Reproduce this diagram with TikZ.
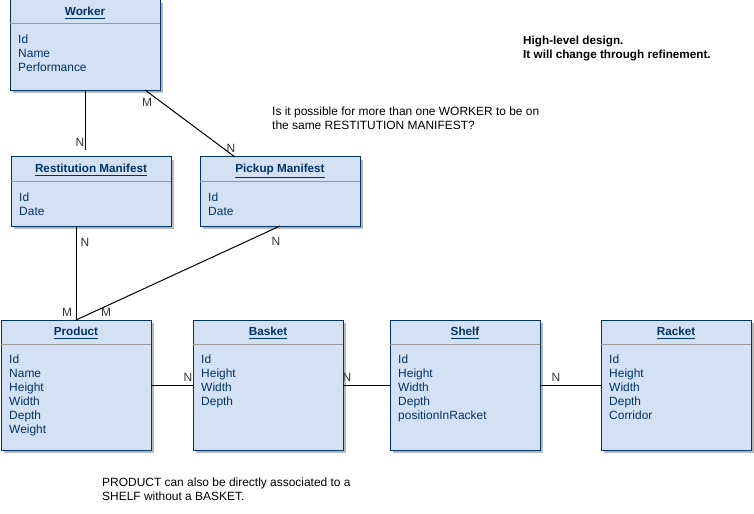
\documentclass[tikz,border=0pt]{standalone}
\usepackage{fontspec}
\setmainfont{Liberation Sans}
\usepackage{tikz}
\usetikzlibrary{calc,shadows}
\definecolor{EntFill}{HTML}{D4E1F5}
\definecolor{EntLine}{HTML}{003366}
\definecolor{EntSep}{HTML}{999999}
\definecolor{CardGray}{HTML}{333333}
\tikzset{
  entbox/.style={draw=EntLine, fill=EntFill, line width=0.85pt, anchor=north west,
    inner sep=0pt, outer sep=0pt, minimum width=4.5cm, minimum height=3.9cm,
    drop shadow={shadow xshift=0.09cm, shadow yshift=-0.09cm, fill=gray!55, opacity=1}},
  enttitle/.style={anchor=base, font=\bfseries, text=EntLine, inner sep=0pt},
  entattr/.style={anchor=north west, align=left, text=EntLine, inner sep=0pt},
  entsep/.style={draw=EntSep, line width=0.85pt},
  relline/.style={draw=black, line width=0.85pt},
  card/.style={text=CardGray, inner sep=0pt},
  note/.style={anchor=north west, align=left, inner sep=0pt}
}

\begin{document}
\begin{tikzpicture}[x=0.03cm, y=-0.03cm, font=\fontsize{10.2}{11.9}\selectfont]
  \useasboundingbox (0,0) rectangle (754,514);

  % worker
  \node[entbox, minimum height=2.7cm] (worker) at (10,0) {};
  \node[enttitle] (workertitle) at ($(worker.north)+(0,16)$) {\underline{Worker}};
  \draw[entsep] ($(worker.north west)+(0,24)$) -- ($(worker.north east)+(0,24)$);
  \node[entattr] (workerattr) at ($(worker.north west)+(8,35)$) {Id\\Name\\Performance};

  % manifests
  \node[entbox, minimum width=4.8cm, minimum height=2.07cm] (rest) at (11,157) {};
  \node[enttitle] (resttitle) at ($(rest.north)+(0,16)$) {\underline{Restitution Manifest}};
  \draw[entsep] ($(rest.north west)+(0,25)$) -- ($(rest.north east)+(0,25)$);
  \node[entattr] (restattr) at ($(rest.north west)+(8,36)$) {Id\\Date};

  \node[entbox, minimum width=4.8cm, minimum height=2.07cm] (pick) at (200,157) {};
  \node[enttitle] (picktitle) at ($(pick.north)+(0,16)$) {\underline{Pickup Manifest}};
  \draw[entsep] ($(pick.north west)+(0,25)$) -- ($(pick.north east)+(0,25)$);
  \node[entattr] (pickattr) at ($(pick.north west)+(8,36)$) {Id\\Date};

  % bottom row
  \node[entbox] (prod) at (1,320) {};
  \node[enttitle] (prodtitle) at ($(prod.north)+(0,16)$) {\underline{Product}};
  \draw[entsep] ($(prod.north west)+(0,24)$) -- ($(prod.north east)+(0,24)$);
  \node[entattr] (prodattr) at ($(prod.north west)+(8,35)$) {Id\\Name\\Height\\Width\\Depth\\Weight};

  \node[entbox] (basket) at (193,320) {};
  \node[enttitle] (baskettitle) at ($(basket.north)+(0,16)$) {\underline{Basket}};
  \draw[entsep] ($(basket.north west)+(0,24)$) -- ($(basket.north east)+(0,24)$);
  \node[entattr] (basketattr) at ($(basket.north west)+(8,35)$) {Id\\Height\\Width\\Depth};

  \node[entbox] (shelf) at (390,320) {};
  \node[enttitle] (shelftitle) at ($(shelf.north)+(0,16)$) {\underline{Shelf}};
  \draw[entsep] ($(shelf.north west)+(0,24)$) -- ($(shelf.north east)+(0,24)$);
  \node[entattr] (shelfattr) at ($(shelf.north west)+(8,35)$) {Id\\Height\\Width\\Depth\\positionInRacket};

  \node[entbox] (racket) at (601,320) {};
  \node[enttitle] (rackettitle) at ($(racket.north)+(0,16)$) {\underline{Racket}};
  \draw[entsep] ($(racket.north west)+(0,24)$) -- ($(racket.north east)+(0,24)$);
  \node[entattr] (racketattr) at ($(racket.north west)+(8,35)$) {Id\\Height\\Width\\Depth\\Corridor};

  % relations
  \coordinate (resttop) at ($(rest.north)+(0,-7)$);
  \draw[relline] (worker.south) -- (worker.south |- resttop);
  \draw[relline] ($(worker.south east)+(-15,0)$) -- ($(pick.north west)+(35,0)$);
  \draw[relline] (prod.north |- rest.south) -- (prod.north);
  \draw[relline] (pick.south) -- (prod.north);
  \draw[relline] (prod.east) -- (basket.west);
  \draw[relline] (basket.east) -- (shelf.west);
  \draw[relline] (shelf.east) -- (racket.west);

  % cardinalities
  \node[card] (c1) at (80,142) {N};
  \node[card] (c2) at (147,102) {M};
  \node[card] (c3) at (231,148) {N};
  \node[card] (c4) at (85,242) {N};
  \node[card] (c5) at (67,312) {M};
  \node[card] (c6) at (276,241) {N};
  \node[card] (c7) at (106,312) {M};
  \node[card] (c8) at (188,377) {N};
  \node[card] (c9) at (347,377) {N};
  \node[card] (c10) at (556,377) {N};

  % notes
  \node[note] (question) at (272,107) {Is it possible for more than one WORKER to be on\\the same RESTITUTION MANIFEST?};
  \node[note, font=\bfseries] (design) at (523,36) {High-level design.\\It will change through refinement.};
  \node[note] (shelfnote) at (102,478) {PRODUCT can also be directly associated to a\\SHELF without a BASKET.};
\end{tikzpicture}
\end{document}
